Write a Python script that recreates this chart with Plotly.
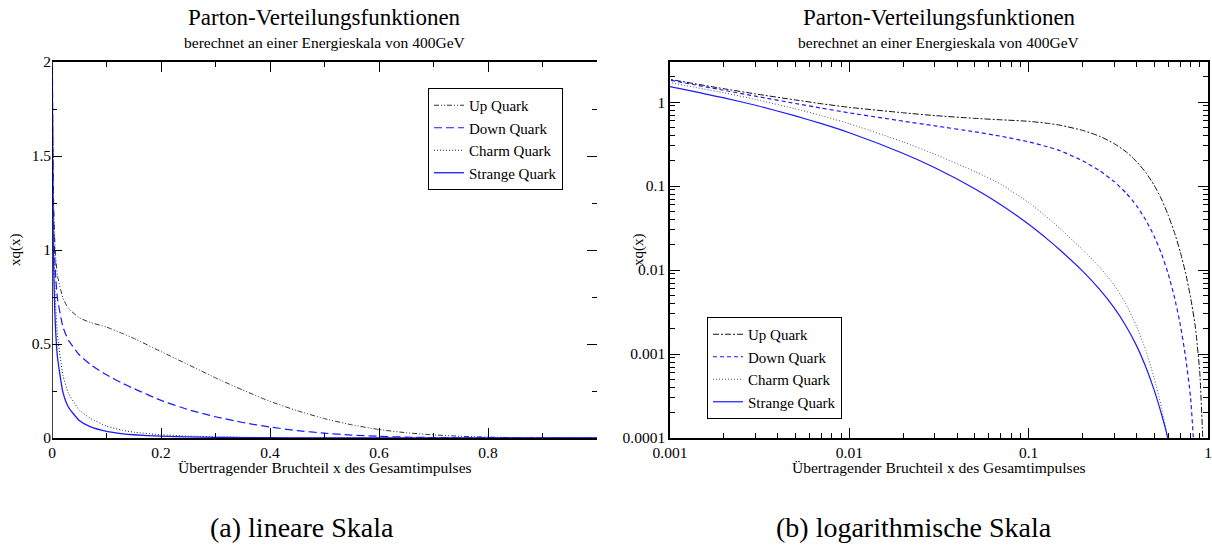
import plotly.graph_objects as go

# ---- data ----
x_vals = [0.0005, 0.001, 0.002, 0.003, 0.005, 0.007, 0.01, 0.02, 0.03, 0.05, 0.07,
          0.1, 0.13, 0.15, 0.2, 0.25, 0.3, 0.35, 0.4, 0.45, 0.5, 0.55, 0.6, 0.65,
          0.7, 0.75, 0.8, 0.85, 0.9, 0.93, 0.95, 1.0]

up_quark = [2.38, 1.86, 1.44, 1.25, 1.06, 0.955, 0.865, 0.745, 0.69, 0.64, 0.615,
            0.59, 0.555, 0.53, 0.46, 0.39, 0.32, 0.255, 0.195, 0.145, 0.103, 0.070, 0.045, 0.028,
            0.0165, 0.0092, 0.0047, 0.0021, 0.0006, 0.00013, 0.00004, 0.000001]

down_quark = [2.30, 1.82, 1.38, 1.175, 0.962, 0.847, 0.743, 0.592, 0.521, 0.443, 0.392,
              0.336, 0.29, 0.263, 0.20, 0.151, 0.113, 0.0824, 0.0582, 0.0394, 0.0255, 0.0157, 0.009, 0.00474,
              0.00226, 0.00092, 0.0003, 0.00004, 0.000004, 0.000001, 0.000001, 0.000001]

charm_quark = [2.20, 1.70, 1.29, 1.074, 0.832, 0.689, 0.552, 0.335, 0.239, 0.149, 0.105,
               0.0635, 0.0406, 0.031, 0.0174, 0.0107, 0.00664, 0.00387, 0.00212, 0.0011, 0.000526, 0.000232, 0.0000929, 0.000033,
               0.00001, 0.000003, 0.000001, 0.000001, 0.000001, 0.000001, 0.000001, 0.000001]

strange_quark = [1.95, 1.53, 1.12, 0.916, 0.684, 0.553, 0.431, 0.244, 0.165, 0.093, 0.060,
                 0.035, 0.0224, 0.0172, 0.0097, 0.0058, 0.00354, 0.00213, 0.00125, 0.0007, 0.000377, 0.000193, 0.0000955, 0.0000427,
                 0.0000158, 0.000005, 0.000001, 0.000001, 0.000001, 0.000001, 0.000001, 0.000001]

series_names = ["Up Quark", "Down Quark", "Charm Quark", "Strange Quark"]

lin_xticks = [0, 0.2, 0.4, 0.6, 0.8]
lin_xticktext = ["0", "0.2", "0.4", "0.6", "0.8"]
lin_yticks = [0, 0.5, 1, 1.5, 2]
lin_yticktext = ["0", "0.5", "1", "1.5", "2"]
log_xticks = [0.001, 0.01, 0.1, 1]
log_xticktext = ["0.001", "0.01", "0.1", "1"]
log_yticks = [0.0001, 0.001, 0.01, 0.1, 1]
log_yticktext = ["0.0001", "0.001", "0.01", "0.1", "1"]

title_text = "Parton-Verteilungsfunktionen"
subtitle_text = "berechnet an einer Energieskala von 400GeV"
xtitle_text = "Übertragender Bruchteil x des Gesamtimpulses"
ytitle_text = "xq(x)"
caption_a = "(a) lineare Skala"
caption_b = "(b) logarithmische Skala"

# ---- layout geometry (pixels) ----
W, H = 1212, 550
SERIF = "Liberation Serif"
BLUE = "#1a1aff"


def px_x(v):
    return v / W


def px_y(v):
    return 1 - v / H


L_LEFT, L_RIGHT = 52, 597
R_LEFT, R_RIGHT = 670, 1208
TOP, BOTTOM = 62, 438

left_styles = [
    dict(color="#333333", dash="5px,2px,1px,2px,1px,2px", width=1),
    dict(color=BLUE, dash="8px,4px", width=1.2),
    dict(color="#222222", dash="1px,2px", width=1),
    dict(color=BLUE, dash="solid", width=1.3),
]
right_styles = [
    dict(color="#111111", dash="6px,2px,2px,2px", width=1),
    dict(color=BLUE, dash="4px,3px", width=1.2),
    dict(color="#555555", dash="1px,2px", width=1),
    dict(color=BLUE, dash="solid", width=1.2),
]

all_series = [up_quark, down_quark, charm_quark, strange_quark]

fig = go.Figure()
for name, ys, st in zip(series_names, all_series, left_styles):
    fig.add_trace(go.Scatter(x=x_vals, y=ys, name=name, mode="lines",
                             line=dict(shape="spline", smoothing=0.5, **st),
                             xaxis="x", yaxis="y", legend="legend"))
for name, ys, st in zip(series_names, all_series, right_styles):
    fig.add_trace(go.Scatter(x=x_vals, y=ys, name=name, mode="lines",
                             line=dict(shape="spline", smoothing=0.5, **st),
                             xaxis="x2", yaxis="y2", legend="legend2"))

tickfont = dict(family=SERIF, size=15.5, color="black")
axis_common = dict(ticks="inside", ticklen=10, tickwidth=1, tickcolor="black",
                   showgrid=False, zeroline=False, tickfont=tickfont, automargin=False,
                   linecolor="black", linewidth=1.5)

log_minor_x = [m * 10 ** e for e in (-3, -2, -1) for m in range(2, 10)]
log_minor_y = [m * 10 ** e for e in (-4, -3, -2, -1, 0) for m in range(2, 10)]

legend_common = dict(xanchor="left", yanchor="top", bgcolor="white",
                     bordercolor="black", borderwidth=1,
                     font=dict(family=SERIF, size=15, color="black"),
                     itemwidth=30, tracegroupgap=0)

fig.update_layout(
    template="none",
    width=W, height=H, margin=dict(l=0, r=0, t=0, b=0, autoexpand=False),
    paper_bgcolor="white", plot_bgcolor="white",
    font=dict(family=SERIF, color="black"),
    xaxis=dict(domain=[px_x(L_LEFT), px_x(L_RIGHT)], range=[0, 1], anchor="y",
               tickmode="array", tickvals=lin_xticks, ticktext=lin_xticktext,
               showline=True, mirror="ticks",
               minor=dict(tickmode="array", tickvals=[0.1, 0.3, 0.5, 0.7, 0.9], ticks="inside",
                          ticklen=5, tickcolor="black", showgrid=False),
               **axis_common),
    yaxis=dict(domain=[px_y(BOTTOM), px_y(TOP)], range=[0, 2], anchor="x",
               tickmode="array", tickvals=lin_yticks, ticktext=lin_yticktext,
               showline=False, mirror="ticks",
               minor=dict(tickmode="array", tickvals=[0.25, 0.75, 1.25, 1.75], ticks="inside",
                          ticklen=5, tickcolor="black", showgrid=False),
               **axis_common),
    xaxis2=dict(domain=[px_x(R_LEFT), px_x(R_RIGHT)], type="log", range=[-3, 0], anchor="y2",
                tickmode="array", tickvals=log_xticks, ticktext=log_xticktext,
                showline=True, mirror="ticks",
                minor=dict(tickmode="array", tickvals=log_minor_x, ticks="inside",
                           ticklen=5, tickcolor="black", showgrid=False),
                **axis_common),
    yaxis2=dict(domain=[px_y(BOTTOM), px_y(TOP)], type="log", range=[-4, 0.4771], anchor="x2",
                tickmode="array", tickvals=log_yticks, ticktext=log_yticktext,
                showline=True, mirror="ticks",
                minor=dict(tickmode="array", tickvals=log_minor_y, ticks="inside",
                           ticklen=5, tickcolor="black", showgrid=False),
                **axis_common),
    legend=dict(x=px_x(428), y=px_y(88), **legend_common),
    legend2=dict(x=px_x(707), y=px_y(317), **legend_common),
    showlegend=True,
)

# left spine of the linear plot (its right spine is cut off in the reference)
fig.add_shape(type="line", xref="x", yref="y", x0=0, x1=0, y0=0, y1=2,
              line=dict(color="black", width=1.5))

annotations = []
for cx in ((L_LEFT + L_RIGHT) / 2, (R_LEFT + R_RIGHT) / 2):
    annotations.append(dict(text=title_text, x=px_x(cx), y=px_y(18), xref="paper", yref="paper",
                            showarrow=False, xanchor="center", yanchor="middle",
                            font=dict(family=SERIF, size=23, color="black")))
    annotations.append(dict(text=subtitle_text, x=px_x(cx), y=px_y(43), xref="paper", yref="paper",
                            showarrow=False, xanchor="center", yanchor="middle",
                            font=dict(family=SERIF, size=15.5, color="black")))
    annotations.append(dict(text=xtitle_text, x=px_x(cx), y=px_y(467), xref="paper", yref="paper",
                            showarrow=False, xanchor="center", yanchor="middle",
                            font=dict(family=SERIF, size=15.5, color="black")))
for yx in (15, 638):
    annotations.append(dict(text=ytitle_text, x=px_x(yx), y=px_y(250), xref="paper", yref="paper",
                            showarrow=False, xanchor="center", yanchor="middle", textangle=-90,
                            font=dict(family=SERIF, size=15, color="black")))
annotations.append(dict(text=caption_a, x=px_x(302), y=px_y(527), xref="paper", yref="paper",
                        showarrow=False, xanchor="center", yanchor="middle",
                        font=dict(family=SERIF, size=28, color="black")))
annotations.append(dict(text=caption_b, x=px_x(914), y=px_y(527), xref="paper", yref="paper",
                        showarrow=False, xanchor="center", yanchor="middle",
                        font=dict(family=SERIF, size=28, color="black")))
fig.update_layout(annotations=annotations)

fig.write_html("out.html")
